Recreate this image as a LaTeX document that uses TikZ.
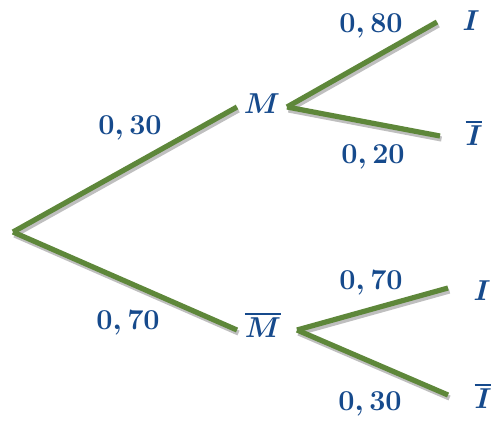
\documentclass[tikz,border=0pt]{standalone}
\usepackage{amsmath}
\usepackage{amssymb}

\definecolor{treegreen}{RGB}{94,135,58}
\definecolor{probblue}{RGB}{22,74,140}

\tikzset{
  branch/.style={line width=2.6pt, draw=treegreen},
  shade/.style={line width=2.6pt, draw=black!25},
  prob/.style={text=probblue, font=\fontsize{15}{17}\selectfont\boldmath, inner sep=0pt},
}

\begin{document}
\begin{tikzpicture}[x=0.5pt, y=-0.5pt]

\useasboundingbox (0,0) rectangle (501,426);

% End points of the branches
\coordinate (root)  at (13,232);
\coordinate (Min)   at (237,107);
\coordinate (Mout)  at (287,107);
\coordinate (MbIn)  at (237,330);
\coordinate (MbOut) at (297,330);
\coordinate (I1)    at (437,22);
\coordinate (Ib1)   at (440,136);
\coordinate (I2)    at (448,288);
\coordinate (Ib2)   at (448,395);

% Events
\node[prob] (M)   at (262,104) {$M$};
\node[prob] (Mb)  at (263,325) {$\overline{M}$};
\node[prob] (It)  at (471,21)  {$I$};
\node[prob] (Ibt) at (474,133) {$\overline{I}$};
\node[prob] (Iu)  at (482,291) {$I$};
\node[prob] (Ibu) at (483,396) {$\overline{I}$};

% Branches (with a light shadow underneath)
\foreach \a/\b in {root/Min, root/MbIn, Mout/I1, Mout/Ib1, MbOut/I2, MbOut/Ib2} {
    \draw[shade] ([shift={(1.5,3)}]\a) -- ([shift={(1.5,3)}]\b);
    \draw[branch] (\a) -- (\b);
}

% Probabilities
\node[prob] (pM)    at (130,128) {$0,30$};
\node[prob] (pMb)   at (128,323) {$0,70$};
\node[prob] (pIM)   at (371,26)  {$0,80$};
\node[prob] (pIbM)  at (373,157) {$0,20$};
\node[prob] (pIMb)  at (371,283) {$0,70$};
\node[prob] (pIbMb) at (370,404) {$0,30$};

\end{tikzpicture}
\end{document}
